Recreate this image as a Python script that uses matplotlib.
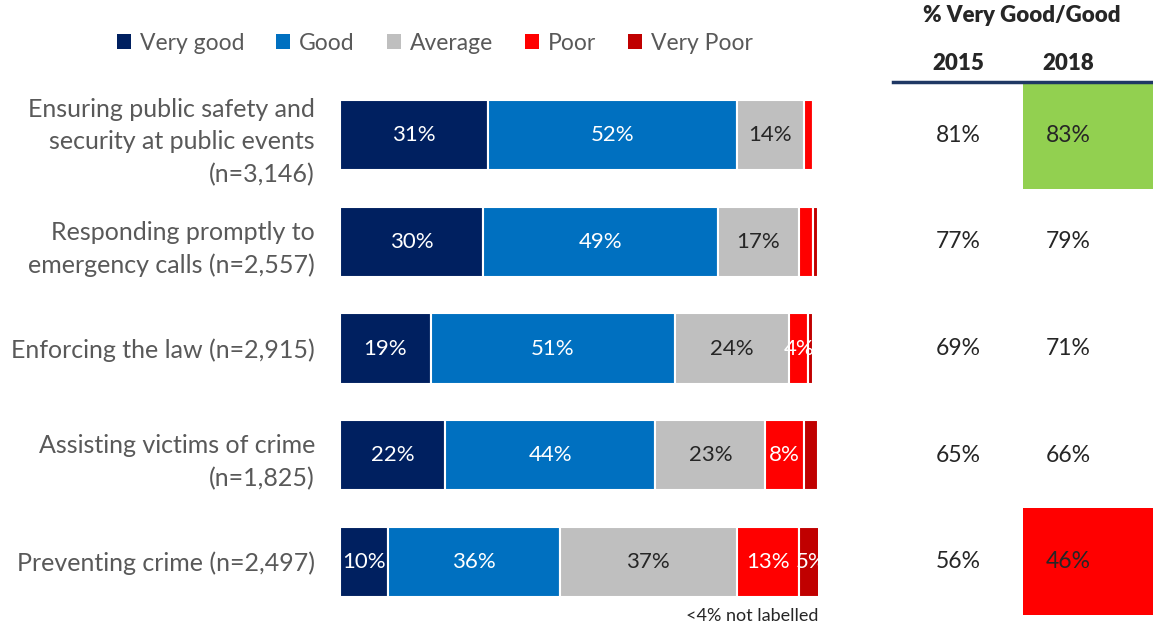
import matplotlib.pyplot as plt
from matplotlib.patches import Patch, Rectangle

plt.rcParams['font.family'] = ['Lato', 'DejaVu Sans']

# data
categories = ["Ensuring public safety and\nsecurity at public events\n(n=3,146)",
              "Responding promptly to\nemergency calls (n=2,557)",
              "Enforcing the law (n=2,915)",
              "Assisting victims of crime\n(n=1,825)",
              "Preventing crime (n=2,497)"]
series = ["Very good", "Good", "Average", "Poor", "Very Poor"]
very_good = [31, 30, 19, 22, 10]
good = [52, 49, 51, 44, 36]
average = [14, 17, 24, 23, 37]
poor = [2, 3, 4, 8, 13]
very_poor = [0, 1, 1, 3, 5]
pct_2015 = [81, 77, 69, 65, 56]
pct_2018 = [83, 79, 71, 66, 46]
highlight_2018 = ["#92D050", None, None, None, "#FF0000"]

colors = ["#002060", "#0070C0", "#BFBFBF", "#FF0000", "#C00000"]
text_colors = ["white", "white", "#262626", "white", "white"]
grey = "#595959"

W, H = 1153, 626
fig = plt.figure(figsize=(W / 100, H / 100), dpi=100)

def px_axes(x0, x1, y0, y1):
    # axes from pixel box (top-left origin)
    return fig.add_axes([x0 / W, 1 - y1 / H, (x1 - x0) / W, (y1 - y0) / H])

# stacked bars
ax = px_axes(340, 818, 82, 615)
values = [very_good, good, average, poor, very_poor]
ypos = range(len(categories))
left = [0] * len(categories)
for vals, name, c, tc in zip(values, series, colors, text_colors):
    ax.barh(ypos, vals, left=left, height=0.66, color=c,
            edgecolor="white", linewidth=1.5, label=name)
    for i, v in enumerate(vals):
        if v >= 4:
            ax.text(left[i] + v / 2, i, f"{v}%", ha="center", va="center",
                    color=tc, fontsize=16)
    left = [l + v for l, v in zip(left, vals)]

ax.set_xlim(0, 100)
ax.set_ylim(4.5, -0.5)
ax.set_yticks(list(ypos))
ax.set_yticklabels(categories, fontsize=18, color=grey, linespacing=1.5)
ax.tick_params(axis="y", length=0, pad=18)
ax.set_xticks([])
for s in ax.spines.values():
    s.set_visible(False)

# legend
handles = [Patch(facecolor=c, label=n) for c, n in zip(colors, series)]
fig.legend(handles=handles, loc="center", bbox_to_anchor=(435 / W, 1 - 43 / H),
           ncol=5, frameon=False, fontsize=16.5, labelcolor=grey,
           handlelength=0.6, handleheight=0.6, handletextpad=0.4,
           columnspacing=1.4)

fig.text(818 / W, 1 - 616 / H, "<4% not labelled", ha="right", va="center",
         fontsize=13, color="#262626")

# table of % very good/good
tx = px_axes(893, 1153, 82, 615)
tx.set_xlim(0, 1)
tx.set_ylim(4.5, -0.5)
tx.axis("off")
col_split = (1023 - 893) / (1153 - 893)
for i in ypos:
    if highlight_2018[i]:
        tx.add_patch(Rectangle((col_split, i - 0.5), 1 - col_split, 1,
                               facecolor=highlight_2018[i], edgecolor="none"))
    tx.text((958 - 893) / 260, i, f"{pct_2015[i]}%", ha="center", va="center",
            fontsize=16.5, color="#262626")
    tx.text((1068 - 893) / 260, i, f"{pct_2018[i]}%", ha="center", va="center",
            fontsize=16.5, color="#262626")
tx.plot([0, 1], [-0.5, -0.5], color="#1F3864", lw=2.5, clip_on=False)

fig.text(1022 / W, 1 - 16 / H, "% Very Good/Good", ha="center", va="center",
         fontsize=16, fontweight="heavy", color="#262626")
fig.text(958 / W, 1 - 63 / H, "2015", ha="center", va="center",
         fontsize=16, fontweight="heavy", color="#262626")
fig.text(1068 / W, 1 - 63 / H, "2018", ha="center", va="center",
         fontsize=16, fontweight="heavy", color="#262626")

fig.savefig("out.png", dpi=100)
